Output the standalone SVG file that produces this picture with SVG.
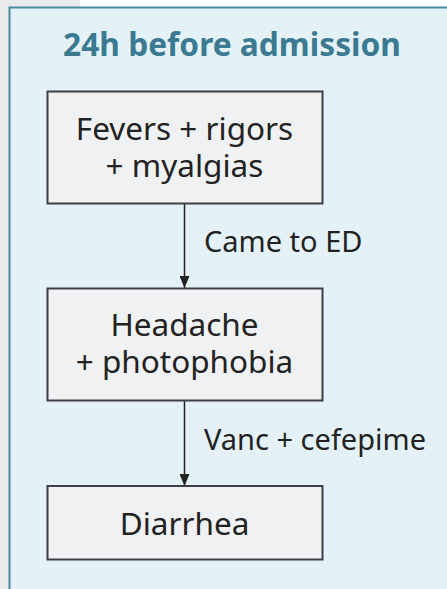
<svg xmlns="http://www.w3.org/2000/svg" width="447" height="589" viewBox="0 0 447 589">
<defs>
<marker id="arr" markerWidth="12" markerHeight="10" refX="12" refY="5" orient="auto" markerUnits="userSpaceOnUse" viewBox="0 0 12 10">
<path d="M0,0 L12,5 L0,10 Z" fill="#222"/>
</marker>
<style>
.node rect{fill:#f0f1f3;stroke:#3d3f44;stroke-width:2}
.node text{font-family:"Noto Sans","Open Sans",sans-serif;font-size:31.5px;fill:#222;text-anchor:middle}
.lbl{font-family:"Noto Sans","Open Sans",sans-serif;font-size:29px;fill:#222}
.edge{stroke:#222;stroke-width:1.5;fill:none}
</style>
</defs>
<rect x="0" y="0" width="447" height="589" fill="#ffffff"/>
<rect x="0" y="0" width="80" height="589" fill="#e8eaeb"/>
<g id="cluster">
<rect x="9.5" y="7.5" width="460" height="600" fill="#e4f2f8" stroke="#4a8a9f" stroke-width="2"/>
<text x="232" y="56" text-anchor="middle" font-family="'Noto Sans','Open Sans',sans-serif" font-weight="bold" font-size="31.7" fill="#3b7a90">24h before admission</text>
</g>
<g id="edges">
<path class="edge" d="M184.5,204 L184.5,288" marker-end="url(#arr)"/>
<text class="lbl" x="204" y="252">Came to ED</text>
<path class="edge" d="M184.5,401 L184.5,486" marker-end="url(#arr)"/>
<text class="lbl" x="204" y="450">Vanc + cefepime</text>
</g>
<g id="n1" class="node">
<rect x="47.5" y="91.5" width="275" height="112"/>
<text x="184.5" y="139.5"><tspan x="184.5" y="139.5">Fevers + rigors</tspan><tspan x="184.5" y="176.5">+ myalgias</tspan></text>
</g>
<g id="n2" class="node">
<rect x="47.5" y="288.5" width="275" height="112"/>
<text x="184.5" y="336"><tspan x="184.5" y="336">Headache</tspan><tspan x="184.5" y="373">+ photophobia</tspan></text>
</g>
<g id="n3" class="node">
<rect x="47.5" y="486" width="275" height="73.5"/>
<text x="184.5" y="534.5">Diarrhea</text>
</g>
</svg>
